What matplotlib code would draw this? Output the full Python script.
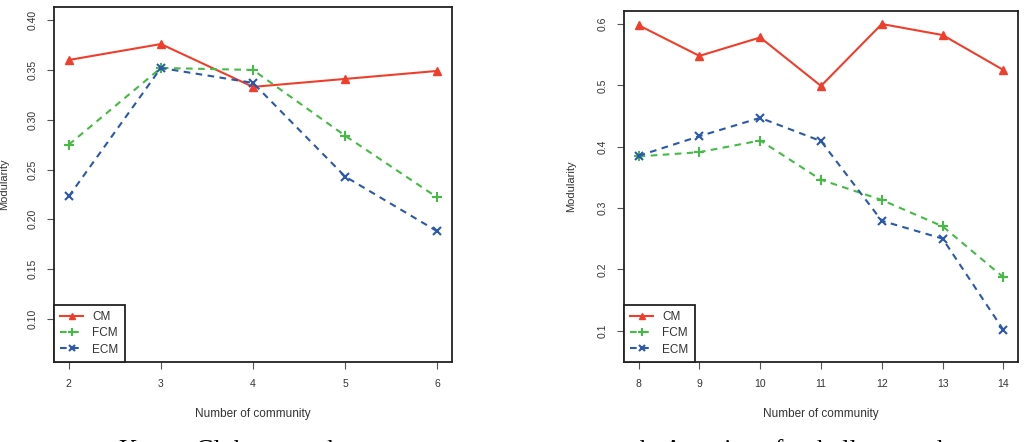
import matplotlib
matplotlib.use("Agg")
import matplotlib.pyplot as plt

# Karate club network
karate_k = [2, 3, 4, 5, 6]
karate_cm = [0.360, 0.376, 0.333, 0.341, 0.349]
karate_fcm = [0.275, 0.352, 0.350, 0.284, 0.222]
karate_ecm = [0.223, 0.352, 0.337, 0.243, 0.188]
karate_yticks = [0.10, 0.15, 0.20, 0.25, 0.30, 0.35, 0.40]

# American football network
football_k = [8, 9, 10, 11, 12, 13, 14]
football_cm = [0.598, 0.548, 0.578, 0.499, 0.600, 0.582, 0.525]
football_fcm = [0.384, 0.391, 0.410, 0.346, 0.313, 0.270, 0.187]
football_ecm = [0.385, 0.417, 0.447, 0.409, 0.279, 0.250, 0.101]
football_yticks = [0.1, 0.2, 0.3, 0.4, 0.5, 0.6]

series_names = ["CM", "FCM", "ECM"]
captions = ["a. Karate Club network", "b. American football network"]

RED = "#f03e2c"
GREEN = "#45bb45"
BLUE = "#2b58aa"
SANS = ["Liberation Sans Narrow", "Liberation Sans", "DejaVu Sans"]

W, H = 1029, 442
fig = plt.figure(figsize=(W / 100, H / 100), dpi=100)


def px_axes(x0, y0, x1, y1):
    return fig.add_axes([x0 / W, 1 - y1 / H, (x1 - x0) / W, (y1 - y0) / H])


def draw_panel(ax, k, cm, fcm, ecm, yticks, yfmt, xlim, ylim, ylabelpad):
    dash = (0, (3.2, 2.6))
    ax.plot(k, cm, color=RED, lw=1.5, marker="^", ms=5.5, label=series_names[0])
    ax.plot(k, fcm, color=GREEN, lw=1.5, ls=dash, marker="+", ms=7, mew=1.5,
            label=series_names[1])
    ax.plot(k, ecm, color=BLUE, lw=1.5, ls=dash, marker="x", ms=5.5, mew=1.5,
            label=series_names[2])
    ax.set_xlim(*xlim)
    ax.set_ylim(*ylim)
    ax.set_xticks(k)
    ax.set_xticklabels([str(v) for v in k], family=SANS, fontsize=7.5, color="#333333")
    ax.set_yticks(yticks)
    ax.set_yticklabels([yfmt.format(v) for v in yticks], family=SANS, fontsize=7.5,
                       color="#333333", rotation=90, va="center")
    ax.tick_params(direction="out", length=5, width=0.8, color="#555555", pad=7)
    for sp in ax.spines.values():
        sp.set_linewidth(1.3)
        sp.set_color("#222222")
    ax.set_xlabel("Number of community", family=SANS, fontsize=8.5, color="#333333",
                  labelpad=14)
    ax.set_ylabel("Modularity", family=SANS, fontsize=8, color="#333333",
                  labelpad=ylabelpad)
    leg = ax.legend(loc="lower left", borderaxespad=0, fancybox=False,
                    edgecolor="#222222", framealpha=1,
                    prop={"family": SANS, "size": 8.5}, handlelength=1.9,
                    handletextpad=0.8, labelspacing=0.35, borderpad=0.55,
                    markerscale=0.9)
    leg.get_frame().set_linewidth(1.3)
    for t in leg.get_texts():
        t.set_color("#333333")


ax1 = px_axes(54, 7, 452, 362)
draw_panel(ax1, karate_k, karate_cm, karate_fcm, karate_ecm, karate_yticks,
           "{:.2f}", (1.84, 6.16), (0.0568, 0.4132), 13)

ax2 = px_axes(624, 11, 1018, 362)
draw_panel(ax2, football_k, football_cm, football_fcm, football_ecm, football_yticks,
           "{:.1f}", (7.76, 14.24), (0.0488, 0.6212), 15)

# captions, cut off by the bottom edge of the image as in the source figure
fig.text(217 / W, -15 / H, captions[0], family="Liberation Serif", fontsize=19,
         ha="center", va="baseline")
fig.text(794 / W, -15 / H, captions[1], family="Liberation Serif", fontsize=19,
         ha="center", va="baseline")

fig.savefig("out.png", dpi=100)
